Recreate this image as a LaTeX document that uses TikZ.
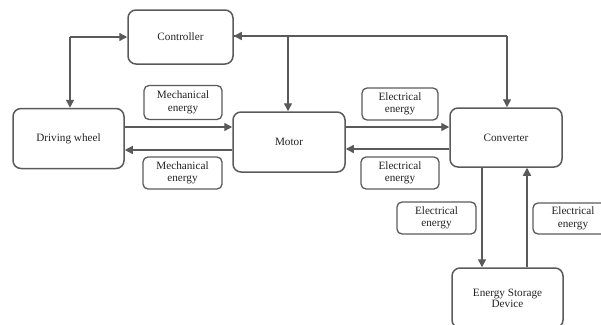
\documentclass[tikz,border=0pt]{standalone}
\usepackage{fontspec}
\setmainfont{Liberation Serif}
\usetikzlibrary{arrows.meta}
\definecolor{linegray}{HTML}{5A5A5A}
\definecolor{txtgray}{HTML}{222222}
\tikzset{
  bigbox/.style={draw=linegray, line width=1.5pt, rounded corners=8pt, inner sep=0pt, text=txtgray, font=\fontsize{11.2}{12}\selectfont, align=center},
  lblbox/.style={draw=linegray, line width=1.3pt, rounded corners=5pt, inner sep=0pt, text=txtgray, font=\fontsize{11.2}{12.5}\selectfont, align=center},
  conn/.style={draw=linegray, line width=1.4pt, -{Triangle[length=8pt,width=8pt]}},
  plain/.style={draw=linegray, line width=1.4pt},
}
\begin{document}
\begin{tikzpicture}[x=1pt,y=-1pt]
\useasboundingbox (0,0) rectangle (601,324);
% big boxes
\node[bigbox, minimum width=105pt, minimum height=54pt] (ctrl) at (180.5,37) {Controller};
\node[bigbox, minimum width=111pt, minimum height=60pt] (wheel) at (68.5,138.5) {Driving wheel};
\node[bigbox, minimum width=112pt, minimum height=60pt] (motor) at (289,142) {Motor};
\node[bigbox, minimum width=112pt, minimum height=59pt] (conv) at (506,137.5) {Converter};
\node[bigbox, minimum width=111pt, minimum height=60pt] (store) at (507.5,298) {Energy Storage\\[-1pt]Device};
% label boxes
\node[lblbox, minimum width=78pt, minimum height=34pt] (mtop) at (183,102.5) {Mechanical\\energy};
\node[lblbox, minimum width=79pt, minimum height=32pt] (mbot) at (182.5,173) {Mechanical\\energy};
\node[lblbox, minimum width=76pt, minimum height=32pt] (etop) at (400,104) {Electrical\\energy};
\node[lblbox, minimum width=78pt, minimum height=32pt] (ebot) at (400,173) {Electrical\\energy};
\node[lblbox, minimum width=79pt, minimum height=32pt] (eleft) at (436.5,218) {Electrical\\energy};
\node[lblbox, minimum width=80pt, minimum height=31pt] (eright) at (573,218.5) {Electrical\\energy};
% coordinates
\coordinate (cornerL) at (70,37);
\coordinate (cornerR) at (507,36);
\coordinate (tapM) at (288,36);
% connectors
\draw[conn] (cornerL) -- (ctrl.west |- cornerL);
\draw[conn] (cornerL) -- (cornerL |- wheel.north);
\draw[plain] (ctrl.east |- cornerR) -- (cornerR);
\draw[conn] (tapM) -- (ctrl.east |- cornerR);
\draw[conn] (cornerR) -- (cornerR |- conv.north);
\draw[conn] (tapM) -- (tapM |- motor.north);
\draw[conn] (wheel.east |- 0,127) -- (motor.west |- 0,127);
\draw[conn] (motor.west |- 0,150) -- (wheel.east |- 0,150);
\draw[conn] (motor.east |- 0,127) -- (conv.west |- 0,127);
\draw[conn] (conv.west |- 0,149) -- (motor.east |- 0,149);
\draw[conn] (conv.south -| 482,0) -- (store.north -| 482,0);
\draw[conn] (store.north -| 527,0) -- (conv.south -| 527,0);
\end{tikzpicture}
\end{document}
